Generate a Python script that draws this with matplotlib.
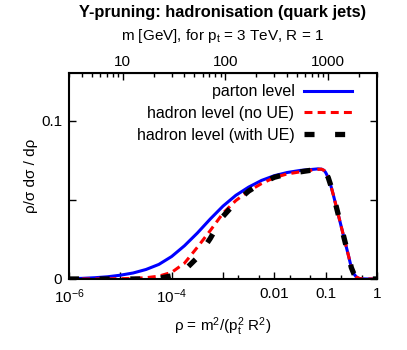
import numpy as np
import matplotlib
matplotlib.use("Agg")
import matplotlib.pyplot as plt
from matplotlib.ticker import FixedLocator, NullFormatter

plt.rcParams['font.family'] = ['Liberation Sans', 'DejaVu Sans']
plt.rcParams['mathtext.fontset'] = 'custom'
plt.rcParams['mathtext.rm'] = 'Liberation Sans'
plt.rcParams['mathtext.it'] = 'Liberation Sans'

# log10(rho) sample points
logRho = [-6, -5.75, -5.5, -5.25, -5, -4.75, -4.5, -4.25, -4, -3.75,
          -3.5, -3.25, -3, -2.75, -2.5, -2.25, -2, -1.75, -1.5, -1.25,
          -1.15, -1.08, -1.03, -1.0, -0.95, -0.9, -0.85, -0.8, -0.75, -0.7,
          -0.65, -0.6, -0.55, -0.5, -0.45, -0.4, -0.35, -0.3, -0.2, 0]
# common high-rho tail (all three curves coincide there)
tail = [0.0693, 0.0685, 0.0672, 0.0640, 0.0590, 0.0530, 0.0465, 0.0400, 0.0335,
        0.0270, 0.0205, 0.0140, 0.0072, 0.0032, 0.0012, 0.0004, 0.0001, 0, 0]
partonLevel = [0.0002, 0.0004, 0.0008, 0.0014, 0.0024, 0.0038, 0.0060, 0.0092, 0.0142, 0.0210,
               0.0290, 0.0378, 0.0460, 0.0528, 0.0580, 0.0622, 0.0652, 0.0672, 0.0685, 0.0692,
               0.0695] + tail
hadronNoUE = [0, 0, 0, 0.0001, 0.0002, 0.0004, 0.0008, 0.0018, 0.0042, 0.0100,
              0.0200, 0.0305, 0.0415, 0.0495, 0.0555, 0.0602, 0.0640, 0.0663, 0.0676, 0.0688,
              0.0692] + tail
hadronWithUE = [0, 0, 0, 0, 0, 0, 0, 0.0004, 0.0020, 0.0055,
                0.0135, 0.0255, 0.0395, 0.0485, 0.0555, 0.0605, 0.0642, 0.0663, 0.0676, 0.0688,
                0.0692] + tail

pt = 3000.0  # GeV, R = 1
mTicks = [10, 100, 1000]

rho = 10.0**np.array(logRho)

fig = plt.figure(figsize=(4.07, 3.5), dpi=100)
ax = fig.add_axes([69/407, 71/350, 308/407, 206/350])

ax.plot(rho, partonLevel, color='#0000ff', lw=2.2, label='parton level')
l2, = ax.plot(rho, hadronNoUE, color='#ff0000', lw=2.2, label='hadron level (no UE)')
l2.set_dashes([2.6, 1.7])
l3, = ax.plot(rho, hadronWithUE, color='black', lw=3.8, label='hadron level (with UE)')
l3.set_dashes([1.9, 3.9])

ax.set_xscale('log')
ax.set_xlim(1e-6, 1)
ax.set_ylim(0, 0.13)

# bottom ticks
ax.xaxis.set_major_locator(FixedLocator([1e-6, 1e-5, 1e-4, 1e-3, 1e-2, 1e-1, 1]))
ax.set_xticklabels(['$10^{-6}$', '', '$10^{-4}$', '', '0.01', '0.1', '1'])
minor = [m*10.0**k for k in (-3, -2, -1) for m in (2, 5)]
ax.xaxis.set_minor_locator(FixedLocator(minor))
ax.xaxis.set_minor_formatter(NullFormatter())
ax.tick_params(axis='x', which='major', direction='in', length=5, width=1,
               top=False, labelsize=11, pad=6)
ax.tick_params(axis='x', which='minor', direction='in', length=3, width=1, top=False)

ax.set_yticks([0, 0.05, 0.1])
ax.set_yticklabels(['0', '', '0.1'])
ax.tick_params(axis='y', direction='in', length=5, width=1, right=True, labelsize=11, pad=5)

for s in ax.spines.values():
    s.set_linewidth(1.5)

# top axis in jet mass
sec = ax.secondary_xaxis('top', functions=(lambda r: np.sqrt(np.clip(r, 1e-20, None))*pt,
                                           lambda m: (m/pt)**2))
sec.set_xscale('log')
sec.xaxis.set_major_locator(FixedLocator(mTicks))
sec.set_xticklabels([str(m) for m in mTicks])
sec.xaxis.set_minor_locator(FixedLocator([m*10.0**k for k in (0, 1, 2, 3) for m in range(2, 10)]))
sec.xaxis.set_minor_formatter(NullFormatter())
sec.tick_params(which='major', direction='in', length=5, width=1, labelsize=11, pad=3)
sec.tick_params(which='minor', direction='in', length=3, width=1)
sec.set_xlabel('m [GeV], for p$_\\mathregular{t}$ = 3 TeV, R = 1', fontsize=11, labelpad=11)

ax.set_xlabel('ρ = m$^\\mathregular{2}$/(p$_\\mathregular{t}^\\mathregular{2}$ R$^\\mathregular{2}$)',
              fontsize=11, labelpad=7)
ax.set_ylabel('ρ/σ dσ / dρ', fontsize=11, labelpad=2)

fig.suptitle('Y-pruning: hadronisation (quark jets)', fontsize=11.8, fontweight='bold',
             x=0.548, y=0.987)

ax.legend(loc='upper right', frameon=False, markerfirst=False, fontsize=11.5,
          handlelength=3.0, handletextpad=0.6, labelspacing=0.42,
          borderaxespad=0.3, bbox_to_anchor=(0.955, 1.0))

fig.savefig('out.png', dpi=100)
